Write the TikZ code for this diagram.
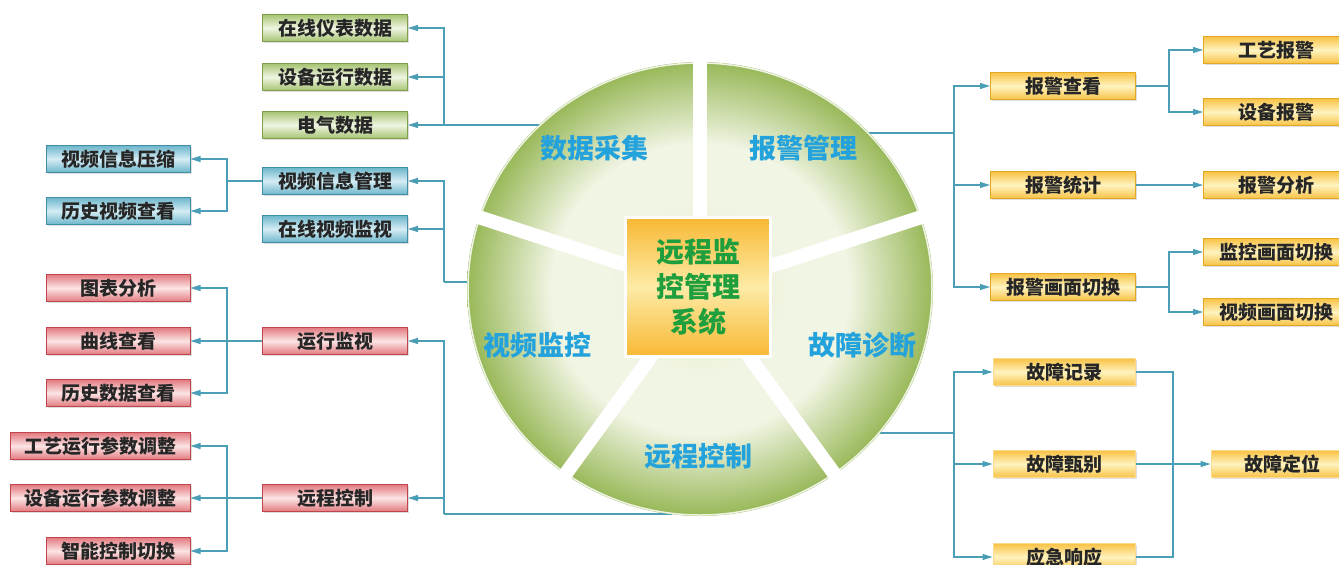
\documentclass[tikz,border=0pt]{standalone}
\usepackage{fontspec}
\newfontfamily\cjk{Noto Sans CJK SC}
\usetikzlibrary{arrows.meta,shadows,calc}
\definecolor{lnC}{HTML}{4A9EB6}
\definecolor{gO}{HTML}{A6C472}
\definecolor{gM}{HTML}{EFF5E2}
\definecolor{gB}{HTML}{7E9E4A}
\definecolor{bO}{HTML}{6DB6CC}
\definecolor{bM}{HTML}{D4ECF3}
\definecolor{bB}{HTML}{3F8EA6}
\definecolor{rO}{HTML}{E27A80}
\definecolor{rM}{HTML}{FCE4E4}
\definecolor{rB}{HTML}{C0444C}
\definecolor{yO}{HTML}{F8C244}
\definecolor{yM}{HTML}{FFF3C0}
\definecolor{yB}{HTML}{E2A824}
\definecolor{pA}{HTML}{E4ECCB}
\definecolor{pB}{HTML}{F1F5E4}
\definecolor{pC}{HTML}{98B858}
\definecolor{cO}{HTML}{F8B834}
\definecolor{cM}{HTML}{FDEBA6}
\definecolor{cT}{HTML}{1E9E3C}
\definecolor{sT}{HTML}{23A2DC}
\pgfdeclareradialshading{pieshade}{\pgfpoint{0bp}{0bp}}{color(0bp)=(pA); color(10bp)=(pB); color(16bp)=(pB); color(25bp)=(pC); color(50bp)=(pC)}
\tikzset{
  box/.style={draw, line width=1pt, minimum height=27pt, inner sep=0pt,
    font=\cjk\bfseries\fontsize{19}{19}\selectfont, text=black!85,
    drop shadow={opacity=0.25,shadow xshift=1.5pt,shadow yshift=-1.5pt}},
  gbox/.style={box, minimum width=145pt, draw=gB, top color=gO, bottom color=gO, middle color=gM},
  bbox/.style={box, minimum width=144pt, draw=bB, top color=bO, bottom color=bO, middle color=bM},
  rbox/.style={box, minimum width=144pt, draw=rB, top color=rO, bottom color=rO, middle color=rM},
  ybox/.style={box, minimum width=145pt, draw=yB, top color=yO, bottom color=yO, middle color=yM},
  fbox/.style={box, minimum width=142pt, draw=yO!60, top color=yO, bottom color=yO, middle color=yM},
  arr/.style={draw=lnC, line width=1.3pt, -{Triangle[length=10pt,width=6pt]}},
  ln/.style={draw=lnC, line width=1.3pt},
  slabel/.style={font=\cjk\bfseries\fontsize{27}{27}\selectfont, text=sT},
}
\begin{document}
\begin{tikzpicture}[x=1pt,y=-1pt]
\useasboundingbox (0,0) rectangle (1339,565);
\fill[white] (0,0) rectangle (1339,565);

% ---------- left: data acquisition ----------
\node[gbox] (g1) at (335,28) {在线仪表数据};
\node[gbox] (g2) at (335,77) {设备运行数据};
\node[gbox] (g3) at (335,125) {电气数据};
\coordinate (pieL1) at (540,125);
\coordinate (jg) at (444,125);
\draw[arr] (pieL1) -- (g3.east);
\draw[arr] (jg) |- (g1.east);
\draw[arr] (jg) |- (g2.east);

% ---------- left: video ----------
\node[bbox,minimum width=145pt] (b1) at (335,181) {视频信息管理};
\node[bbox,minimum width=145pt] (b2) at (335,229) {在线视频监视};
\node[bbox] (bl1) at (118,159) {视频信息压缩};
\node[bbox] (bl2) at (118,211) {历史视频查看};
\coordinate (pieB) at (468,282);
\coordinate (jb) at (444,282);
\draw[ln] (pieB) -- (jb);
\draw[arr] (jb) |- (b1.east);
\draw[arr] (jb) |- (b2.east);
\coordinate (jbl) at (227,181);
\draw[ln] (b1.west) -- (jbl);
\draw[arr] (jbl) |- (bl1.east);
\draw[arr] (jbl) |- (bl2.east);

% ---------- left: remote ----------
\node[rbox,minimum width=145pt] (r1) at (335,341) {运行监视};
\node[rbox,minimum width=145pt] (r2) at (335,498) {远程控制};
\node[rbox] (rl1) at (118,288) {图表分析};
\node[rbox] (rl2) at (118,341) {曲线查看};
\node[rbox] (rl3) at (118,393) {历史数据查看};
\node[rbox,minimum width=180pt] (rl4) at (100,446) {工艺运行参数调整};
\node[rbox,minimum width=180pt] (rl5) at (100,498) {设备运行参数调整};
\node[rbox] (rl6) at (118,551) {智能控制切换};
\coordinate (pieR) at (672,514);
\coordinate (jr) at (444,514);
\draw[ln] (pieR) -- (jr);
\draw[arr] (jr) |- (r1.east);
\draw[arr] (jr) |- (r2.east);
\coordinate (jrl) at (227,341);
\draw[arr] (r1.west) -- (rl2.east);
\draw[arr] (jrl) |- (rl1.east);
\draw[arr] (jrl) |- (rl3.east);
\coordinate (jrl2) at (227,498);
\draw[arr] (r2.west) -- (rl5.east);
\draw[arr] (jrl2) |- (rl4.east);
\draw[arr] (jrl2) |- (rl6.east);

% ---------- right: alarms ----------
\node[ybox] (y1) at (1063,86) {报警查看};
\node[ybox] (y2) at (1063,185) {报警统计};
\node[ybox] (y3) at (1063,287) {报警画面切换};
\node[ybox] (yr1) at (1276,50) {工艺报警};
\node[ybox] (yr2) at (1276,112) {设备报警};
\node[ybox] (yr3) at (1276,185) {报警分析};
\node[ybox] (yr4) at (1276,252) {监控画面切换};
\node[ybox] (yr5) at (1276,312) {视频画面切换};
\coordinate (pieA) at (868,133);
\coordinate (ja) at (954,133);
\draw[ln] (pieA) -- (ja);
\draw[arr] (ja) |- (y1.west);
\draw[arr] (ja) |- (y2.west);
\draw[arr] (ja) |- (y3.west);
\coordinate (jy1) at (1169,86);
\draw[ln] (y1.east) -- (jy1);
\draw[arr] (jy1) |- (yr1.west);
\draw[arr] (jy1) |- (yr2.west);
\draw[arr] (y2.east) -- (yr3.west);
\coordinate (jy3) at (1169,287);
\draw[ln] (y3.east) -- (jy3);
\draw[arr] (jy3) |- (yr4.west);
\draw[arr] (jy3) |- (yr5.west);

% ---------- right: faults ----------
\node[fbox] (f1) at (1064,372) {故障记录};
\node[fbox] (f2) at (1064,464) {故障甄别};
\node[fbox] (f3) at (1064,557) {应急响应};
\node[fbox] (ff) at (1282,464) {故障定位};
\coordinate (pieF) at (880,433);
\coordinate (jf) at (954,433);
\draw[ln] (pieF) -- (jf);
\draw[arr] (jf) |- (f1.west);
\draw[arr] (jf) |- (f2.west);
\draw[arr] (jf) |- (f3.west);
\coordinate (jf2) at (1173,464);
\draw[ln] (f1.east) -| (jf2) |- (f3.east);
\draw[arr] (f2.east) -- (ff.west);

% ---------- pie ----------
\shade[shading=pieshade] (700,289) ellipse [x radius=233pt, y radius=227pt];
\draw[white!85!pC, line width=1.5pt] (700,289) ellipse [x radius=232pt, y radius=226pt];
\foreach \a in {-90,-162,-234,-306,-18}
  \draw[white, line width=14pt] (700,289) -- +(\a:242);

\node[slabel] (s1) at (594,148) {数据采集};
\node[slabel] (s2) at (803,148) {报警管理};
\node[slabel] (s3) at (537,345) {视频监控};
\node[slabel] (s4) at (862,345) {故障诊断};
\node[slabel] (s5) at (698,456) {远程控制};

\node[draw=white, line width=3pt, minimum width=145pt, minimum height=139pt,
  top color=cO, bottom color=cO, middle color=cM, align=center, inner sep=0pt,
  text=cT, font=\cjk\bfseries\fontsize{28}{35}\selectfont] (c) at (698,287)
  {远程监\\控管理\\系统};
\end{tikzpicture}
\end{document}
